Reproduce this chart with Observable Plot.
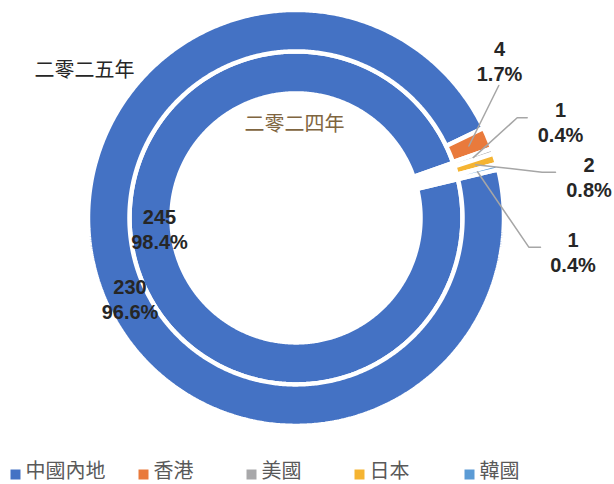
<!DOCTYPE html>
<html><head><meta charset="utf-8">
<script src="https://cdn.jsdelivr.net/npm/d3@7"></script>
<script src="https://cdn.jsdelivr.net/npm/@observablehq/plot@0.6"></script>
<style>body{margin:0;background:#fff} #chart svg{display:block}</style>
</head><body><div id="chart"></div>
<script>
// ---- data ----
const categories = ["中國內地", "香港", "美國", "日本", "韓國"];
const years = ["二零二四年", "二零二五年"];
const values2024 = [245, 1, 1, 1, 1];
const values2025 = [230, 4, 1, 2, 1];

// ---- styles / layout ----
const colors = ["#4472C4", "#E97A3C", "#A8A8AA", "#F5B432", "#5B9BD5"];
const W = 614, H = 484, CX = 295.5, CY = 217.4, START = 76.5;
const rings = [
  {year: years[0], values: values2024, r0: 124.5, r1: 166.5},
  {year: years[1], values: values2025, r0: 166.5, r1: 208}
];
// label anchors (layout): which ring/category, where the text sits, leader bend
const labelLayout = [
  {ring: 0, cat: 0, x: 159, y: 228},
  {ring: 1, cat: 0, x: 129.5, y: 298},
  {ring: 1, cat: 1, x: 499, y: 59.5, lead: [[498.3, 85]]},
  {ring: 1, cat: 2, x: 560, y: 121, lead: [[526.7, 117.3], [516.7, 117.3]]},
  {ring: 1, cat: 3, x: 588.5, y: 176, lead: [[555, 171.7], [541.7, 171.7]]},
  {ring: 1, cat: 4, x: 572.5, y: 251, lead: [[540, 246.7], [528.3, 246.7]]}
];
const ringTitles = [
  {text: years[1], x: 84, y: 70, color: "#262626"},
  {text: years[0], x: 294, y: 124, color: "#7F6540"}
];
const legendX = [15, 143, 251, 359, 469];
const legendY = 474;
const legendTextY = 471;

function pt(deg, r) {
  const a = deg * Math.PI / 180;
  return [CX + r * Math.sin(a), CY - r * Math.cos(a)];
}

const arcPts = [];
const slices = rings.map(ring => {
  const total = d3.sum(ring.values);
  let a = START;
  return ring.values.map((v, i) => {
    const span = v / total * 360;
    const a0 = a, a1 = a + span; a = a1;
    const n = Math.max(2, Math.ceil(span / 0.5));
    const key = ring.year + i;
    for (let k = 0; k <= n; k++) { const [x, y] = pt(a0 + span * k / n, ring.r1); arcPts.push({key, cat: categories[i], x, y}); }
    for (let k = n; k >= 0; k--) { const [x, y] = pt(a0 + span * k / n, ring.r0); arcPts.push({key, cat: categories[i], x, y}); }
    return {value: v, pct: v / total, mid: (a0 + a1) / 2, rm: (ring.r0 + ring.r1) / 2};
  });
});

const labels = labelLayout.map(l => {
  const s = slices[l.ring][l.cat];
  return {x: l.x, y: l.y, text: `${s.value}\n${(s.pct * 100).toFixed(1)}%`};
});
const leaders = [];
labelLayout.forEach((l, j) => {
  if (!l.lead) return;
  const s = slices[l.ring][l.cat];
  const end = pt(s.mid, s.rm);
  [...l.lead, end].forEach(([x, y]) => leaders.push({id: j, x, y}));
});
const legend = categories.map((c, i) => ({cat: c, x: legendX[i]}));

const chart = Plot.plot({
  width: W, height: H, margin: 0,
  style: {background: "#fff"},
  x: {domain: [0, W], range: [0, W], axis: null},
  y: {domain: [0, H], range: [0, H], axis: null},
  color: {domain: categories, range: colors},
  marks: [
    Plot.line(arcPts, {x: "x", y: "y", z: "key", fill: "cat", stroke: "white", strokeWidth: 4.5, curve: "linear-closed", strokeLinejoin: "miter"}),
    Plot.line(leaders, {x: "x", y: "y", z: "id", stroke: "#A6A6A6", strokeWidth: 1.5}),
    Plot.text(labels, {x: "x", y: "y", text: "text", fontSize: 20, fontWeight: "bold", lineHeight: 1.25, fill: "#262626", fontFamily: "Liberation Sans, Arial, sans-serif"}),
    Plot.text(ringTitles, {x: "x", y: "y", text: "text", fill: d => d.color, fontSize: 20, fontFamily: "Noto Sans CJK TC, sans-serif"}),
    Plot.dot(legend, {x: "x", y: () => legendY, fill: "cat", symbol: "square", r: 5.64}),
    Plot.text(legend, {x: d => d.x + 10, y: () => legendTextY, text: "cat", textAnchor: "start", fontSize: 20, fill: "#595959", fontFamily: "Noto Sans CJK TC, sans-serif"})
  ]
});
document.getElementById("chart").appendChild(chart);
</script>
</body></html>
